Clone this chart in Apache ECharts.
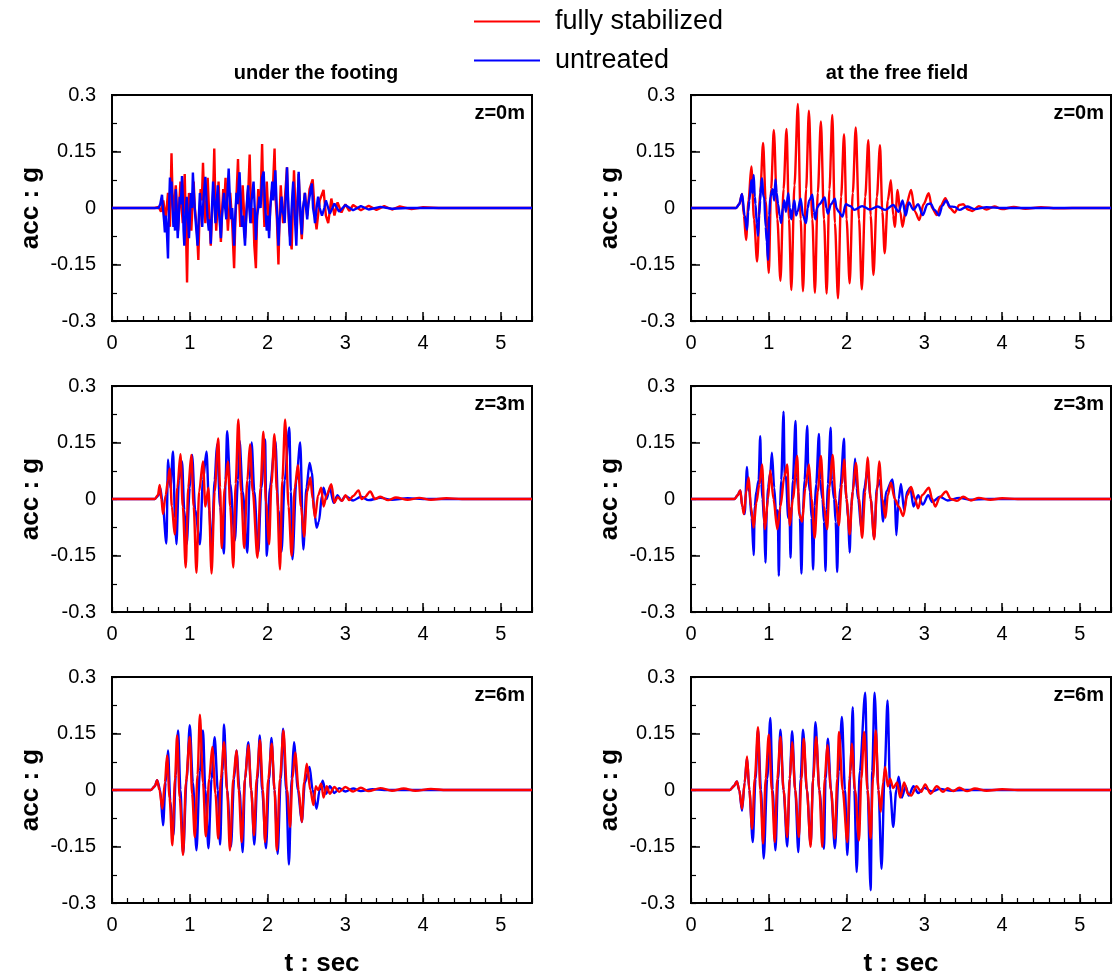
<!DOCTYPE html>
<html>
<head>
<meta charset="utf-8">
<script src="https://cdn.jsdelivr.net/npm/echarts@6/dist/echarts.min.js"></script>
<style>
html,body{margin:0;padding:0;background:#fff;}
#chart{width:1113px;height:977px;}
</style>
</head>
<body>
<div id="chart"></div>
<script>
// ---------- tick labels / texts ----------
var columnTitles = ['under the footing', 'at the free field'];
var depthLabels = ['z=0m', 'z=3m', 'z=6m'];
var seriesNames = ['fully stabilized', 'untreated'];
var xTitle = 't : sec';
var yTitle = 'acc : g';
var xMin = 0, xMax = 5.4, xMajor = 1, xMinor = 0.2;
var yMin = -0.3, yMax = 0.3, yMajor = 0.15, yMinor = 0.075;

// ---------- data: [t (s), acc (g)] ----------
// under the footing, z=0m
var footRed0 = [[0,0],[0.55,0],[0.6,0.003],[0.63,-0.01],[0.66,0.02],[0.69,-0.03],[0.72,0.04],[0.745,-0.05],[0.765,0.145],[0.78,0.02],[0.79,-0.02],[0.805,0.02],[0.82,0.06],[0.835,0.0],[0.85,-0.06],[0.865,0.01],[0.88,0.07],[0.895,0.0],[0.91,-0.04],[0.92,0.02],[0.935,0.09],[0.95,-0.05],[0.965,-0.198],[0.98,-0.02],[0.99,0.04],[1.005,0.0],[1.02,-0.06],[1.035,0.01],[1.05,0.07],[1.065,0.0],[1.08,-0.03],[1.095,-0.07],[1.11,-0.138],[1.125,-0.02],[1.14,0.05],[1.155,0.02],[1.17,0.12],[1.185,0.02],[1.2,-0.04],[1.215,0.01],[1.23,0.08],[1.25,-0.02],[1.27,-0.1],[1.285,-0.02],[1.3,0.04],[1.315,0.158],[1.33,0.0],[1.34,-0.06],[1.355,0.0],[1.37,0.07],[1.385,-0.01],[1.4,-0.09],[1.415,-0.01],[1.43,0.05],[1.445,0.02],[1.46,0.08],[1.475,0.0],[1.49,-0.06],[1.505,-0.01],[1.52,0.04],[1.545,-0.04],[1.57,-0.16],[1.585,-0.04],[1.6,0.03],[1.62,0.13],[1.635,0.02],[1.65,-0.05],[1.665,0.0],[1.68,0.06],[1.695,0.0],[1.71,-0.08],[1.725,-0.02],[1.74,0.03],[1.755,0.06],[1.77,0.142],[1.785,0.02],[1.8,-0.04],[1.815,0.0],[1.83,-0.1],[1.85,-0.16],[1.865,-0.03],[1.88,0.05],[1.895,0.0],[1.91,0.02],[1.93,0.17],[1.945,0.03],[1.96,-0.05],[1.975,0.0],[1.99,0.07],[2.005,0.0],[2.02,-0.06],[2.035,0.0],[2.05,0.04],[2.07,0.06],[2.09,0.158],[2.105,0.02],[2.12,-0.03],[2.14,-0.15],[2.155,-0.02],[2.17,0.06],[2.185,0.0],[2.2,-0.04],[2.225,0.03],[2.25,0.108],[2.265,0.0],[2.28,-0.06],[2.31,-0.11],[2.325,0.0],[2.34,0.1],[2.355,0.02],[2.37,-0.05],[2.385,0.01],[2.4,0.09],[2.42,-0.02],[2.44,-0.083],[2.46,0.0],[2.48,0.04],[2.51,-0.02],[2.54,0.05],[2.58,0.076],[2.61,-0.02],[2.63,-0.057],[2.67,0.02],[2.72,0.048],[2.75,-0.02],[2.78,-0.04],[2.82,0.025],[2.86,-0.02],[2.9,0.015],[2.95,-0.012],[3.0,0.01],[3.05,-0.008],[3.1,0.008],[3.2,-0.006],[3.3,0.006],[3.4,-0.005],[3.5,0.005],[3.6,-0.004],[3.7,0.004],[3.85,-0.003],[4.0,0.002],[4.2,0],[5.4,0]];
var footBlue0 = [[0,0],[0.6,0],[0.62,0.01],[0.643,0.035],[0.655,0.0],[0.668,-0.03],[0.68,-0.065],[0.69,-0.02],[0.705,-0.06],[0.72,-0.134],[0.73,-0.02],[0.745,0.081],[0.755,0.04],[0.765,0.07],[0.775,0.02],[0.79,-0.05],[0.8,-0.01],[0.81,-0.06],[0.82,0.05],[0.83,0.0],[0.845,-0.08],[0.858,-0.03],[0.87,0.03],[0.885,0.01],[0.9,0.085],[0.91,0.03],[0.92,-0.06],[0.93,-0.1],[0.945,-0.03],[0.96,0.03],[0.975,-0.02],[0.99,-0.08],[1.0,-0.03],[1.015,0.04],[1.028,0.0],[1.04,0.094],[1.055,0.03],[1.07,-0.02],[1.085,-0.06],[1.1,-0.1],[1.115,-0.03],[1.13,0.04],[1.145,-0.01],[1.16,-0.05],[1.175,0.02],[1.19,0.06],[1.2,0.083],[1.215,0.02],[1.23,-0.03],[1.245,-0.06],[1.26,-0.03],[1.27,-0.095],[1.285,0.0],[1.3,0.07],[1.315,0.02],[1.33,-0.04],[1.345,0.01],[1.36,0.06],[1.375,-0.01],[1.39,-0.05],[1.4,-0.08],[1.415,-0.02],[1.43,0.02],[1.44,0.04],[1.455,0.0],[1.47,-0.03],[1.485,0.04],[1.5,0.105],[1.515,0.03],[1.53,-0.03],[1.545,0.0],[1.56,-0.06],[1.57,-0.1],[1.585,-0.02],[1.6,0.04],[1.615,0.01],[1.63,0.07],[1.64,0.095],[1.655,0.02],[1.67,-0.05],[1.685,-0.02],[1.7,-0.07],[1.71,-0.1],[1.725,-0.03],[1.74,0.03],[1.75,0.06],[1.765,0.0],[1.78,-0.04],[1.795,0.02],[1.81,0.05],[1.82,0.07],[1.835,0.0],[1.85,-0.085],[1.865,-0.02],[1.88,0.0],[1.895,0.03],[1.91,0.0],[1.93,0.08],[1.95,0.097],[1.965,0.02],[1.98,-0.03],[1.99,-0.06],[2.005,-0.02],[2.02,-0.08],[2.035,0.0],[2.05,0.04],[2.06,0.07],[2.075,0.02],[2.09,0.06],[2.1,0.1],[2.115,0.02],[2.13,-0.05],[2.14,-0.1],[2.155,-0.03],[2.17,0.0],[2.18,0.03],[2.195,-0.01],[2.21,-0.02],[2.22,-0.04],[2.235,0.03],[2.25,0.108],[2.265,0.02],[2.28,-0.05],[2.29,-0.1],[2.305,-0.02],[2.32,0.04],[2.33,0.07],[2.345,0.0],[2.36,-0.06],[2.37,-0.1],[2.385,0.0],[2.4,0.096],[2.415,0.02],[2.43,-0.04],[2.44,-0.07],[2.455,0.0],[2.47,0.02],[2.48,0.04],[2.495,0.0],[2.51,-0.03],[2.525,0.01],[2.54,0.03],[2.555,0.05],[2.57,0.065],[2.585,0.0],[2.6,-0.02],[2.61,-0.04],[2.63,0.0],[2.65,0.03],[2.67,0.0],[2.7,-0.02],[2.73,0.0],[2.75,0.02],[2.78,0.0],[2.8,-0.015],[2.86,0.012],[2.92,-0.01],[3.0,0.008],[3.1,-0.006],[3.2,0.005],[3.3,-0.004],[3.45,0.003],[3.6,-0.002],[3.8,0],[5.4,0]];
// at the free field, z=0m
var freeRed0 = [[0,0],[0.58,0],[0.62,0.01],[0.656,0.037],[0.68,-0.02],[0.708,-0.085],[0.74,0.02],[0.776,0.11],[0.81,-0.03],[0.85,-0.142],[0.89,0.04],[0.927,0.173],[0.96,0.02],[1.0,-0.173],[1.03,0.05],[1.065,0.207],[1.11,-0.03],[1.15,-0.193],[1.19,0.05],[1.228,0.21],[1.26,-0.03],[1.29,-0.218],[1.33,0.06],[1.374,0.276],[1.41,-0.03],[1.44,-0.221],[1.48,0.05],[1.516,0.258],[1.56,-0.03],[1.593,-0.225],[1.63,0.04],[1.67,0.23],[1.71,-0.03],[1.744,-0.227],[1.78,0.05],[1.817,0.247],[1.85,-0.04],[1.89,-0.24],[1.93,0.03],[1.968,0.196],[2.0,-0.03],[2.04,-0.2],[2.08,0.04],[2.118,0.214],[2.16,-0.03],[2.196,-0.216],[2.24,0.03],[2.28,0.18],[2.31,-0.02],[2.346,-0.178],[2.39,0.03],[2.43,0.167],[2.46,-0.01],[2.49,-0.12],[2.53,0.02],[2.57,0.074],[2.6,-0.02],[2.62,-0.05],[2.656,0.048],[2.69,-0.01],[2.72,-0.05],[2.77,0.01],[2.83,0.048],[2.88,-0.01],[2.935,-0.032],[2.99,0.01],[3.056,0.039],[3.1,0],[3.16,-0.019],[3.21,0.005],[3.27,0.026],[3.33,0],[3.39,-0.012],[3.45,0.008],[3.5,0.01],[3.56,-0.004],[3.62,-0.008],[3.7,0.005],[3.8,-0.004],[3.9,0.004],[4.0,-0.003],[4.15,0.003],[4.3,-0.002],[4.5,0.002],[4.7,-0.001],[4.9,0],[5.4,0]];
var freeBlue0 = [[0,0],[0.58,0],[0.62,0.01],[0.656,0.037],[0.69,-0.02],[0.72,-0.058],[0.735,-0.01],[0.75,0.02],[0.776,0.074],[0.79,0.04],[0.806,0.088],[0.82,0.03],[0.83,0.01],[0.845,-0.04],[0.862,-0.074],[0.875,-0.02],[0.89,0.02],[0.9,0.06],[0.914,0.079],[0.93,0.03],[0.94,0.03],[0.96,-0.05],[0.975,-0.09],[0.99,-0.138],[1.005,-0.02],[1.02,0.03],[1.05,0.05],[1.07,0.02],[1.086,0.076],[1.1,0.04],[1.12,0.01],[1.14,-0.02],[1.16,-0.04],[1.18,0.0],[1.2,0.02],[1.22,-0.01],[1.25,0.039],[1.27,0.0],[1.29,-0.03],[1.31,0.0],[1.33,0.02],[1.35,-0.02],[1.37,-0.01],[1.41,0.025],[1.44,-0.02],[1.48,-0.04],[1.5,0.0],[1.52,0.02],[1.56,0.035],[1.58,-0.01],[1.6,-0.03],[1.62,0.0],[1.65,0.01],[1.72,0.028],[1.74,0.0],[1.76,-0.015],[1.8,0.01],[1.85,0.025],[1.87,0.0],[1.9,-0.01],[1.946,-0.023],[1.99,0.01],[2.05,0.005],[2.1,-0.005],[2.2,0.005],[2.3,-0.004],[2.4,0.004],[2.5,-0.005],[2.6,0.008],[2.67,-0.01],[2.72,0.02],[2.76,-0.02],[2.8,0.015],[2.86,-0.005],[2.92,0.01],[2.98,-0.019],[3.04,0.01],[3.08,0.012],[3.13,-0.005],[3.19,-0.02],[3.23,0.005],[3.28,0.02],[3.33,0.004],[3.39,0.003],[3.45,-0.005],[3.55,0.004],[3.65,-0.003],[3.8,0.002],[4.0,0],[5.4,0]];
// under the footing, z=3m
var footRed3 = [[0,0],[0.55,0],[0.59,0.01],[0.613,0.037],[0.635,0.0],[0.656,-0.04],[0.69,0.01],[0.72,0.05],[0.742,0.081],[0.77,-0.02],[0.806,-0.094],[0.84,0.03],[0.88,0.119],[0.91,-0.02],[0.948,-0.182],[0.98,0.03],[1.02,0.117],[1.05,-0.02],[1.086,-0.196],[1.12,0.02],[1.17,0.1],[1.2,-0.02],[1.24,0.03],[1.28,-0.198],[1.32,0.02],[1.366,0.161],[1.39,0.03],[1.41,-0.13],[1.45,0.03],[1.49,0.1],[1.52,-0.02],[1.56,-0.182],[1.59,0.04],[1.624,0.211],[1.66,0.02],[1.7,-0.13],[1.74,0.05],[1.774,0.145],[1.81,0.02],[1.87,-0.156],[1.91,0.03],[1.946,0.179],[1.98,-0.01],[2.02,-0.12],[2.05,0.04],[2.088,0.172],[2.12,0.02],[2.16,-0.187],[2.19,0.05],[2.226,0.211],[2.27,-0.02],[2.31,-0.151],[2.35,0.03],[2.39,0.09],[2.43,-0.02],[2.47,-0.1],[2.51,0.02],[2.55,0.057],[2.58,0.0],[2.61,-0.05],[2.65,0.01],[2.69,0.03],[2.72,-0.02],[2.76,0.01],[2.82,0.039],[2.86,-0.01],[2.9,0.005],[2.96,-0.005],[3.0,0.01],[3.05,-0.003],[3.1,0.008],[3.17,0.023],[3.21,0.0],[3.25,0.005],[3.32,0.02],[3.38,0.0],[3.45,0.006],[3.55,-0.003],[3.65,0.004],[3.8,-0.002],[3.95,0.003],[4.1,-0.002],[4.3,0.002],[4.5,0],[5.4,0]];
var footBlue3 = [[0,0],[0.55,0],[0.6,0.01],[0.62,0.03],[0.65,-0.01],[0.7,-0.118],[0.72,0.105],[0.75,0.03],[0.785,0.126],[0.81,-0.05],[0.828,-0.12],[0.86,0.05],[0.9,0.1],[0.93,-0.03],[0.96,-0.12],[1.0,0.03],[1.03,0.117],[1.07,-0.03],[1.13,-0.12],[1.17,0.05],[1.215,0.126],[1.25,-0.03],[1.28,-0.14],[1.32,0.05],[1.35,0.145],[1.39,-0.02],[1.44,-0.145],[1.46,0.05],[1.48,0.18],[1.52,0.04],[1.58,-0.11],[1.62,0.05],[1.64,0.155],[1.68,0.02],[1.74,-0.143],[1.77,0.05],[1.795,0.15],[1.83,0.02],[1.88,-0.143],[1.92,0.03],[1.968,0.158],[1.99,-0.151],[2.03,0.03],[2.1,0.155],[2.14,-0.03],[2.18,-0.14],[2.22,0.05],[2.28,0.19],[2.3,0.02],[2.32,-0.16],[2.37,0.05],[2.42,0.15],[2.46,-0.134],[2.5,0.03],[2.54,0.096],[2.57,0.07],[2.6,-0.03],[2.63,-0.076],[2.66,-0.06],[2.7,0.01],[2.72,0.03],[2.76,0.0],[2.8,0.03],[2.85,-0.01],[2.9,0.01],[2.95,-0.005],[3.0,0.008],[3.1,-0.004],[3.2,0.006],[3.3,-0.003],[3.45,0.003],[3.6,-0.002],[3.8,0.002],[4.0,0],[5.4,0]];
// at the free field, z=3m
var freeRed3 = [[0,0],[0.56,0],[0.6,0.01],[0.634,0.023],[0.66,-0.02],[0.68,-0.04],[0.71,0.02],[0.742,0.057],[0.77,-0.02],[0.806,-0.076],[0.84,-0.01],[0.88,0.04],[0.914,0.092],[0.95,-0.08],[0.99,0.0],[1.02,0.076],[1.06,0.0],[1.11,-0.08],[1.15,-0.02],[1.2,0.06],[1.237,0.092],[1.27,-0.07],[1.31,0.0],[1.366,0.114],[1.39,-0.04],[1.43,-0.06],[1.47,0.03],[1.516,0.092],[1.55,0.0],[1.59,-0.103],[1.63,0.02],[1.67,0.114],[1.71,-0.02],[1.75,-0.08],[1.78,0.03],[1.82,0.117],[1.86,0.0],[1.9,-0.07],[1.94,0.04],[1.97,0.105],[2.0,0.0],[2.04,-0.094],[2.08,0.02],[2.12,0.096],[2.16,0.0],[2.2,-0.103],[2.24,0.02],[2.27,0.11],[2.31,0.0],[2.355,-0.107],[2.39,0.02],[2.42,0.1],[2.46,0.0],[2.5,-0.05],[2.53,0.01],[2.57,0.043],[2.62,0.0],[2.67,-0.02],[2.73,-0.045],[2.78,0.01],[2.83,0.032],[2.88,0.0],[2.92,-0.025],[2.97,0.01],[3.06,0.03],[3.1,0.0],[3.14,-0.02],[3.2,0.005],[3.28,0.02],[3.34,0.0],[3.42,-0.005],[3.5,0.006],[3.6,-0.004],[3.7,0.003],[3.85,-0.002],[4.0,0.002],[4.2,0],[5.4,0]];
var freeBlue3 = [[0,0],[0.56,0],[0.6,0.01],[0.634,0.023],[0.66,-0.02],[0.69,-0.04],[0.72,0.085],[0.735,0.03],[0.75,0.02],[0.78,-0.05],[0.806,-0.149],[0.82,-0.02],[0.84,0.02],[0.87,0.05],[0.89,0.167],[0.905,0.04],[0.92,0.0],[0.94,-0.06],[0.957,-0.169],[0.975,-0.03],[0.99,0.03],[1.02,0.07],[1.04,0.123],[1.07,0.03],[1.1,-0.06],[1.115,-0.03],[1.129,-0.204],[1.145,-0.02],[1.16,0.05],[1.19,0.232],[1.205,0.06],[1.22,0.06],[1.25,-0.05],[1.265,-0.02],[1.28,-0.156],[1.295,-0.02],[1.31,0.05],[1.344,0.207],[1.36,0.06],[1.38,0.02],[1.4,-0.05],[1.42,-0.198],[1.44,-0.03],[1.46,0.05],[1.495,0.194],[1.51,0.05],[1.53,0.02],[1.55,-0.05],[1.57,-0.187],[1.59,-0.02],[1.61,0.04],[1.645,0.173],[1.66,0.05],[1.69,0.0],[1.71,-0.06],[1.73,-0.191],[1.745,-0.03],[1.76,0.04],[1.796,0.189],[1.81,0.05],[1.84,0.0],[1.86,-0.06],[1.88,-0.194],[1.9,-0.02],[1.92,0.03],[1.968,0.16],[1.98,0.04],[2.0,0.0],[2.02,-0.05],[2.04,-0.142],[2.06,-0.02],[2.08,0.02],[2.11,0.107],[2.13,0.03],[2.15,0.0],[2.19,-0.08],[2.23,0.03],[2.27,0.08],[2.31,0.0],[2.355,-0.103],[2.39,0.03],[2.43,0.05],[2.47,-0.06],[2.51,0.02],[2.59,0.052],[2.62,0.0],[2.64,-0.096],[2.67,0.0],[2.7,0.04],[2.74,-0.03],[2.78,0.02],[2.82,0.03],[2.86,-0.02],[2.92,0.01],[2.98,-0.015],[3.05,0.01],[3.1,-0.008],[3.2,0.006],[3.3,-0.004],[3.45,0.003],[3.6,-0.002],[3.8,0],[5.4,0]];
// under the footing, z=6m
var footRed6 = [[0,0],[0.5,0],[0.55,0.01],[0.58,0.026],[0.61,0.0],[0.647,-0.05],[0.68,0.02],[0.708,0.092],[0.74,-0.02],[0.776,-0.147],[0.81,0.03],[0.837,0.145],[0.87,-0.02],[0.914,-0.173],[0.95,0.02],[1.0,0.141],[1.03,-0.01],[1.065,-0.125],[1.1,0.04],[1.13,0.2],[1.17,0.02],[1.206,-0.123],[1.25,0.03],[1.29,0.114],[1.33,-0.01],[1.366,-0.129],[1.4,0.03],[1.44,0.127],[1.48,0.0],[1.516,-0.16],[1.56,0.03],[1.6,0.105],[1.63,0.0],[1.667,-0.138],[1.71,0.03],[1.753,0.119],[1.79,0.0],[1.826,-0.12],[1.86,0.03],[1.903,0.132],[1.94,0.0],[1.968,-0.138],[2.01,0.03],[2.054,0.123],[2.09,0.0],[2.118,-0.16],[2.16,0.03],[2.204,0.158],[2.25,0.0],[2.29,-0.098],[2.32,0.03],[2.355,0.1],[2.4,0.0],[2.44,-0.085],[2.47,0.02],[2.505,0.07],[2.55,0.0],[2.59,-0.04],[2.62,0.01],[2.65,0.0],[2.69,0.017],[2.72,-0.02],[2.76,0.01],[2.8,-0.01],[2.86,0.008],[2.92,-0.005],[3.0,0.008],[3.1,-0.004],[3.2,0.006],[3.3,-0.003],[3.45,0.005],[3.6,-0.002],[3.75,0.004],[3.9,-0.002],[4.1,0.003],[4.3,0],[5.4,0]];
var footBlue6 = [[0,0],[0.5,0],[0.55,0.01],[0.58,0.026],[0.62,0.0],[0.656,-0.094],[0.69,0.02],[0.72,0.105],[0.75,-0.03],[0.79,-0.12],[0.82,0.04],[0.85,0.158],[0.88,0.0],[0.914,-0.17],[0.96,0.03],[1.0,0.172],[1.04,0.02],[1.086,-0.16],[1.13,0.05],[1.17,0.158],[1.2,0.0],[1.24,-0.155],[1.28,0.03],[1.32,0.14],[1.36,0.0],[1.39,-0.145],[1.42,0.05],[1.44,0.174],[1.48,0.0],[1.53,-0.15],[1.57,0.03],[1.6,0.105],[1.64,0.0],[1.68,-0.165],[1.71,0.03],[1.753,0.127],[1.79,0.0],[1.83,-0.145],[1.87,0.03],[1.9,0.145],[1.93,0.0],[1.98,-0.155],[2.02,0.03],[2.05,0.138],[2.09,0.0],[2.13,-0.17],[2.17,0.03],[2.2,0.163],[2.24,0.0],[2.275,-0.198],[2.31,0.03],[2.34,0.127],[2.39,0.0],[2.44,-0.085],[2.48,0.02],[2.54,0.061],[2.58,0.0],[2.63,-0.05],[2.67,0.0],[2.71,0.025],[2.75,-0.01],[2.8,0.01],[2.86,-0.008],[2.92,0.005],[3.0,-0.004],[3.1,0.004],[3.2,-0.003],[3.35,0.002],[3.5,0],[5.4,0]];
// at the free field, z=6m
var freeRed6 = [[0,0],[0.5,0],[0.55,0.01],[0.59,0.023],[0.62,0.0],[0.656,-0.05],[0.69,0.02],[0.72,0.089],[0.75,0.0],[0.785,-0.103],[0.82,0.03],[0.862,0.167],[0.89,0.0],[0.927,-0.142],[0.96,0.03],[1.0,0.147],[1.04,0.0],[1.077,-0.138],[1.11,0.03],[1.15,0.141],[1.19,0.0],[1.237,-0.125],[1.27,0.03],[1.3,0.127],[1.34,0.0],[1.387,-0.125],[1.42,0.03],[1.45,0.136],[1.49,0.0],[1.538,-0.151],[1.57,0.03],[1.61,0.141],[1.65,0.0],[1.688,-0.151],[1.72,0.03],[1.753,0.119],[1.8,0.0],[1.85,-0.129],[1.88,0.03],[1.903,0.154],[1.95,0.0],[2.01,-0.138],[2.04,0.03],[2.067,0.123],[2.11,0.0],[2.16,-0.134],[2.19,0.03],[2.226,0.154],[2.27,0.0],[2.31,-0.129],[2.34,0.03],[2.376,0.158],[2.41,0.0],[2.44,-0.058],[2.47,0.02],[2.497,0.061],[2.53,0.01],[2.56,0.03],[2.6,0.005],[2.65,0.02],[2.69,-0.02],[2.74,0.02],[2.79,-0.01],[2.83,-0.015],[2.9,0.01],[2.96,-0.005],[3.01,0.015],[3.08,-0.01],[3.16,0.01],[3.24,-0.005],[3.3,0.005],[3.37,-0.003],[3.45,0.006],[3.55,-0.003],[3.65,0.004],[3.8,-0.002],[4.0,0.002],[4.2,0],[5.4,0]];
var freeBlue6 = [[0,0],[0.5,0],[0.55,0.01],[0.59,0.023],[0.62,0.0],[0.656,-0.055],[0.69,0.02],[0.72,0.085],[0.75,0.0],[0.794,-0.138],[0.83,0.03],[0.862,0.16],[0.9,0.0],[0.935,-0.182],[0.98,0.03],[1.02,0.191],[1.05,0.0],[1.086,-0.16],[1.12,0.03],[1.15,0.16],[1.19,0.0],[1.237,-0.15],[1.27,0.03],[1.3,0.156],[1.34,0.0],[1.38,-0.165],[1.41,0.03],[1.44,0.16],[1.49,0.0],[1.538,-0.145],[1.57,0.03],[1.6,0.18],[1.65,0.0],[1.71,-0.156],[1.73,0.03],[1.76,0.136],[1.8,0.0],[1.85,-0.155],[1.9,0.05],[1.94,0.194],[1.98,0.0],[2.01,-0.173],[2.05,0.05],[2.08,0.22],[2.1,0.0],[2.13,-0.218],[2.17,0.05],[2.24,0.258],[2.27,0.0],[2.31,-0.266],[2.33,0.05],[2.36,0.258],[2.41,0.0],[2.45,-0.209],[2.49,0.05],[2.527,0.238],[2.56,0.0],[2.6,-0.098],[2.64,0.0],[2.67,0.035],[2.71,-0.02],[2.76,0.01],[2.8,-0.015],[2.86,0.01],[2.92,-0.008],[3.0,0.006],[3.1,-0.004],[3.2,0.003],[3.35,-0.002],[3.5,0],[5.4,0]];

// ---------- panels ----------
var panels = [
  {red: footRed0, blue: footBlue0, redOnTop: false, smooth: false},
  {red: freeRed0, blue: freeBlue0, redOnTop: false, smooth: 0.3},
  {red: footRed3, blue: footBlue3, redOnTop: true, smooth: 0.3},
  {red: freeRed3, blue: freeBlue3, redOnTop: true, smooth: 0.3},
  {red: footRed6, blue: footBlue6, redOnTop: true, smooth: 0.3},
  {red: freeRed6, blue: freeBlue6, redOnTop: true, smooth: 0.3}
];

var FONT = "'Liberation Sans', Arial, sans-serif";
var colLeft = [112, 691], plotW = 420;
var rowTop = [95, 386, 677], plotH = 226;
var RED = '#ff0000', BLUE = '#0000ff';

var grids = [], xAxes = [], yAxes = [], series = [], titles = [];
panels.forEach(function (p, i) {
  var col = i % 2, row = Math.floor(i / 2);
  grids.push({left: colLeft[col], top: rowTop[row], width: plotW, height: plotH,
    show: true, borderColor: '#000', borderWidth: 2, backgroundColor: 'transparent'});
  xAxes.push({gridIndex: i, type: 'value', position: 'bottom', min: xMin, max: xMax, interval: xMajor,
    axisLine: {show: true, onZero: false, lineStyle: {color: '#000', width: 2}},
    axisTick: {show: true, inside: true, length: 9, lineStyle: {color: '#000', width: 1.5}},
    axisLabel: {show: true, margin: 12, color: '#000', fontSize: 20, fontFamily: FONT, showMaxLabel: false},
    splitLine: {show: false}});
  xAxes.push({gridIndex: i, type: 'value', position: 'bottom', min: xMin, max: xMax, interval: xMinor,
    axisLine: {show: false, onZero: false},
    axisTick: {show: true, inside: true, length: 5, lineStyle: {color: '#000', width: 1.2}},
    axisLabel: {show: false}, splitLine: {show: false}});
  yAxes.push({gridIndex: i, type: 'value', position: 'left', min: yMin, max: yMax, interval: yMajor,
    axisLine: {show: true, onZero: false, lineStyle: {color: '#000', width: 2}},
    axisTick: {show: true, inside: true, length: 9, lineStyle: {color: '#000', width: 1.5}},
    axisLabel: {show: true, margin: 16, color: '#000', fontSize: 20, fontFamily: FONT},
    splitLine: {show: false},
    name: yTitle, nameLocation: 'middle', nameGap: 68, nameRotate: 90,
    nameTextStyle: {color: '#000', fontSize: 26, fontWeight: 'bold', fontFamily: FONT}});
  yAxes.push({gridIndex: i, type: 'value', position: 'left', min: yMin, max: yMax, interval: yMinor,
    axisLine: {show: false, onZero: false},
    axisTick: {show: true, inside: true, length: 5, lineStyle: {color: '#000', width: 1.2}},
    axisLabel: {show: false}, splitLine: {show: false}});

  var redS = {name: seriesNames[0], type: 'line', xAxisIndex: 2 * i, yAxisIndex: 2 * i, data: p.red,
    smooth: p.smooth, smoothMonotone: 'x',
    showSymbol: false, symbol: 'none', lineStyle: {color: RED, width: 2.4}, itemStyle: {color: RED}, animation: false};
  var blueS = {name: seriesNames[1], type: 'line', xAxisIndex: 2 * i, yAxisIndex: 2 * i, data: p.blue,
    smooth: p.smooth, smoothMonotone: 'x',
    showSymbol: false, symbol: 'none', lineStyle: {color: BLUE, width: 2.4}, itemStyle: {color: BLUE}, animation: false};
  if (p.redOnTop) { series.push(blueS, redS); } else { series.push(redS, blueS); }

  titles.push({text: depthLabels[row], right: 1113 - (colLeft[col] + plotW) + 7, top: rowTop[row] + 8,
    padding: 0, textStyle: {fontSize: 20, fontWeight: 'bold', color: '#000', fontFamily: FONT}});
});

var titleCenters = [316, 897];
[0, 1].forEach(function (col) {
  titles.push({text: columnTitles[col], left: titleCenters[col], top: 63, textAlign: 'center', padding: 0,
    textStyle: {fontSize: 20, fontWeight: 'bold', color: '#000', fontFamily: FONT}});
  titles.push({text: xTitle, left: colLeft[col] + plotW / 2, top: 951, textAlign: 'center', padding: 0,
    textStyle: {fontSize: 26, fontWeight: 'bold', color: '#000', fontFamily: FONT}});
});

var legendText = {fontSize: 27, color: '#000', fontFamily: FONT, padding: [0, 0, 0, 10]};
var option = {
  animation: false,
  backgroundColor: '#fff',
  title: titles,
  legend: [
    {data: [seriesNames[0]], left: 474, top: 8, orient: 'vertical', icon: 'rect', itemWidth: 66, itemHeight: 2,
      padding: 0, textStyle: legendText, selectedMode: false},
    {data: [seriesNames[1]], left: 474, top: 47, orient: 'vertical', icon: 'rect', itemWidth: 66, itemHeight: 2,
      padding: 0, textStyle: legendText, selectedMode: false}
  ],
  grid: grids,
  xAxis: xAxes,
  yAxis: yAxes,
  series: series
};

var chart = echarts.init(document.getElementById('chart'), null, {renderer: 'canvas'});
chart.setOption(option);
</script>
</body>
</html>
